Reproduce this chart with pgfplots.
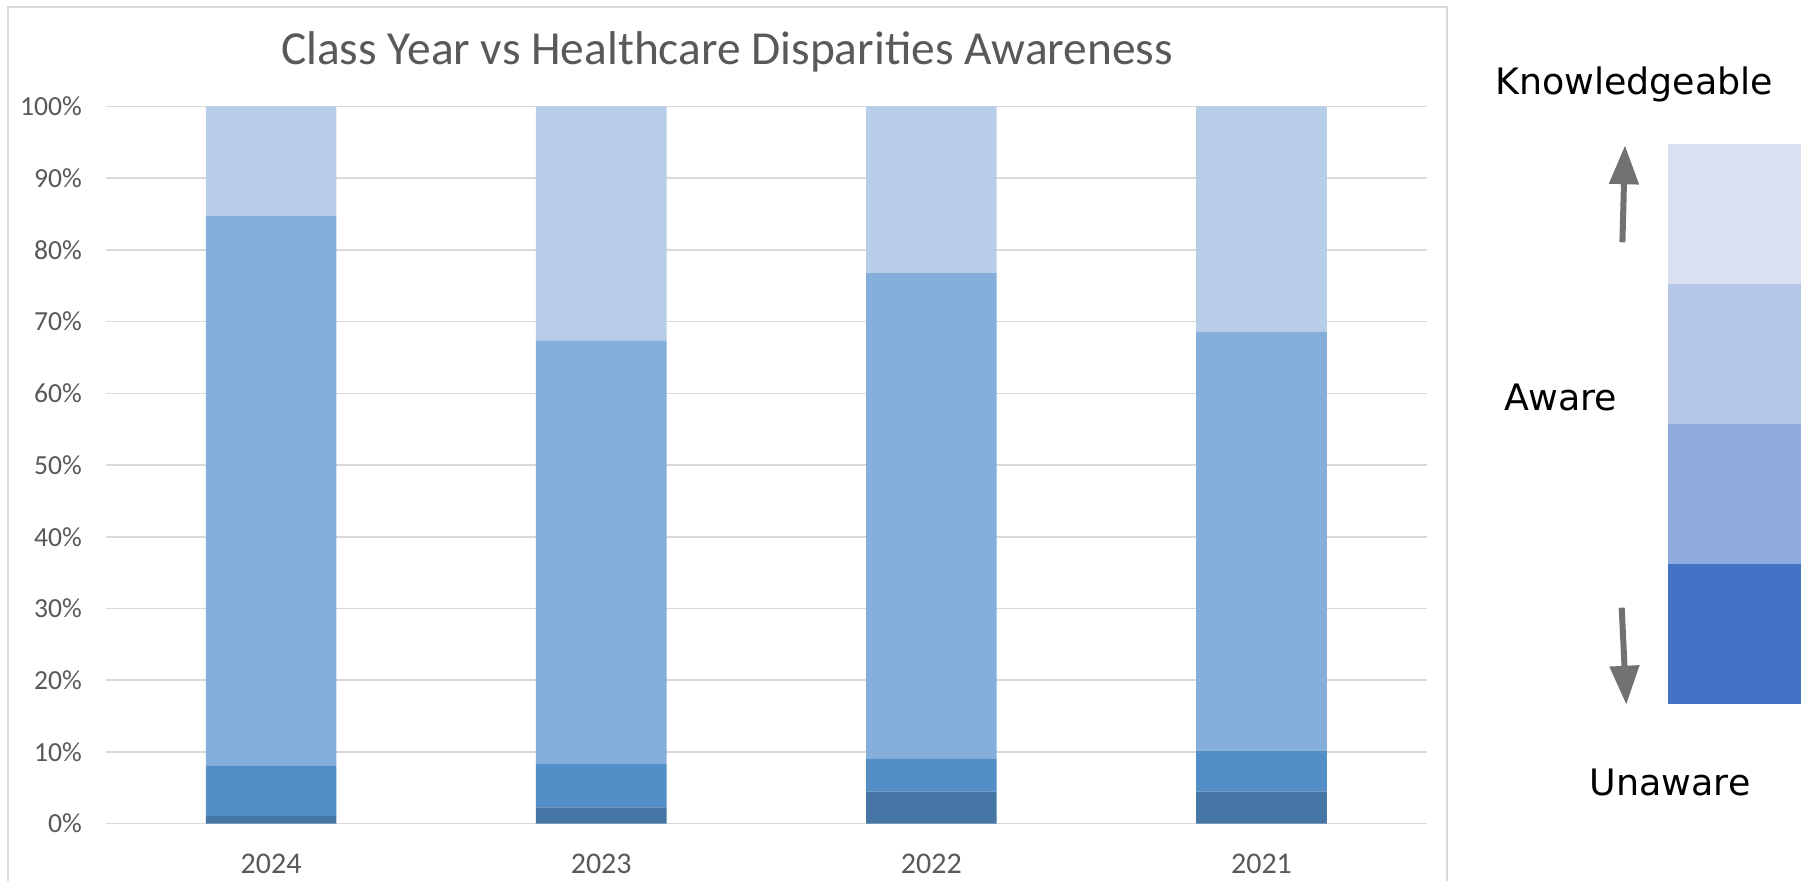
\documentclass[border=0pt]{standalone}
\usepackage{fontspec}
\setmainfont{Carlito}
\newfontfamily\dejavu{DejaVu Sans}
\usepackage{pgfplots}
\pgfplotsset{compat=1.18}
\usetikzlibrary{arrows.meta}
\definecolor{cA}{HTML}{4676A5}
\definecolor{cB}{HTML}{538EC6}
\definecolor{cC}{HTML}{85AEDB}
\definecolor{cD}{HTML}{B8CDE8}
\definecolor{lA}{HTML}{4472C4}
\definecolor{lB}{HTML}{8FAADC}
\definecolor{lC}{HTML}{B4C7E7}
\definecolor{lD}{HTML}{DAE0F0}
\definecolor{gridgray}{HTML}{D9D9D9}
\definecolor{txtgray}{HTML}{595959}
\definecolor{arrowgray}{HTML}{717171}
\begin{document}
\begin{tikzpicture}
\useasboundingbox (0,0) rectangle (900.5pt,440.5pt);
\fill[white] (0,0) rectangle (900.5pt,440.5pt);
\draw[gridgray, line width=1pt] (4.15pt,-10pt) -- (4.15pt,437.15pt) -- (723.5pt,437.15pt) -- (723.5pt,-10pt);
\begin{axis}[
  at={(53pt,28.65pt)}, anchor=south west,
  scale only axis, width=660.3pt, height=358.6pt,
  xmin=-0.5, xmax=3.5, ymin=0, ymax=100,
  ybar stacked, bar width=65.3pt,
  xtick={0,1,2,3}, xticklabels={2024,2023,2022,2021},
  ytick={0,10,20,30,40,50,60,70,80,90,100},
  yticklabels={0\%,10\%,20\%,30\%,40\%,50\%,60\%,70\%,80\%,90\%,100\%},
  ymajorgrids, grid style={color=gridgray, line width=0.8pt},
  axis line style={draw=none}, major tick length=0pt, tick style={draw=none},
  yticklabel style={font=\fontsize{13.8}{16}\selectfont, text=txtgray, xshift=-8.5pt},
  xticklabel style={font=\fontsize{15}{18}\selectfont, text=txtgray, yshift=-11.5pt},
  clip=false,
]
\addplot[fill=cA, draw=none] coordinates {(0,1.07) (1,2.29) (2,4.46) (3,4.46)};
\addplot[fill=cB, draw=none] coordinates {(0,6.98) (1,6.04) (2,4.56) (3,5.72)};
\addplot[fill=cC, draw=none] coordinates {(0,76.72) (1,59.00) (2,67.75) (3,58.41)};
\addplot[fill=cD, draw=none] coordinates {(0,15.23) (1,32.67) (2,23.23) (3,31.41)};
\end{axis}
\node[font=\fontsize{23.7}{28}\selectfont, text=txtgray, anchor=base] at (363.5pt,408pt) {Class Year vs Healthcare Disparities Awareness};
\begin{axis}[
  at={(834pt,88.5pt)}, anchor=south west,
  scale only axis, width=70pt, height=280.1pt,
  xmin=-0.5, xmax=0.5, ymin=0, ymax=4,
  hide axis, ybar stacked, bar width=70pt,
]
\addplot[fill=lA, draw=none] coordinates {(0,1)};
\addplot[fill=lB, draw=none] coordinates {(0,1)};
\addplot[fill=lC, draw=none] coordinates {(0,1)};
\addplot[fill=lD, draw=none] coordinates {(0,1)};
\end{axis}
\node[font=\dejavu\fontsize{18.2}{22}\selectfont, anchor=base] at (817.1pt,393.45pt) {Knowledgeable};
\node[font=\dejavu\fontsize{18.2}{22}\selectfont, anchor=base] at (780.5pt,235.05pt) {Aware};
\node[font=\dejavu\fontsize{18.2}{22}\selectfont, anchor=base] at (835pt,42.8pt) {Unaware};
\draw[arrowgray, line width=3pt, -{Triangle[width=14.3pt,length=19.4pt]}] (811.2pt,319.35pt) -- (812.5pt,367.8pt);
\draw[arrowgray, line width=3pt, -{Triangle[width=14.3pt,length=19.4pt]}] (810.85pt,136.65pt) -- (813.15pt,88.2pt);
\end{tikzpicture}
\end{document}
